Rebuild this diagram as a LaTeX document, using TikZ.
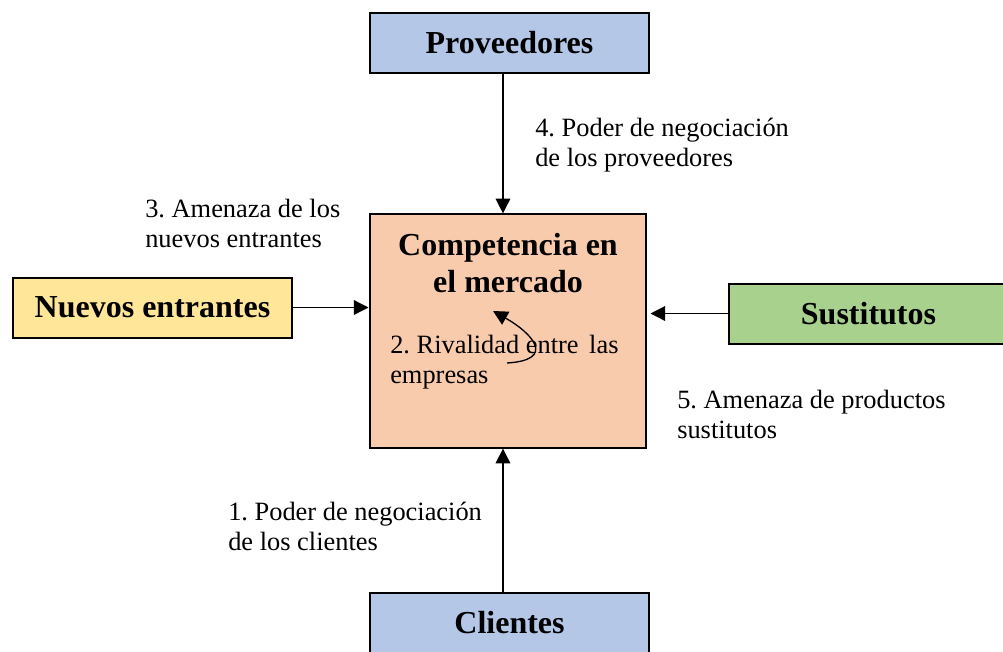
\documentclass[tikz,border=0pt]{standalone}
\usepackage{fontspec}
\setmainfont{Liberation Serif}
\usepackage{tikz}
\usetikzlibrary{arrows.meta}
\frenchspacing
\pgfdeclarelayer{edgelayer}
\pgfdeclarelayer{nodelayer}
\pgfsetlayers{edgelayer,nodelayer,main}
\definecolor{lblue}{RGB}{180,199,231}
\definecolor{lorange}{RGB}{248,203,173}
\definecolor{lyellow}{RGB}{255,230,153}
\definecolor{lgreen}{RGB}{169,209,142}
\tikzstyle{force}=[rectangle, draw=black, line width=1.5pt, minimum width=209pt, minimum height=45pt, font=\fontsize{24}{27.6}\selectfont\bfseries]
\tikzstyle{market}=[rectangle, fill=lorange, draw=black, line width=1.5pt, minimum width=207pt, minimum height=175pt]
\tikzstyle{note}=[align=left, inner sep=0pt, anchor=west, font=\fontsize{19.8}{22.5}\selectfont]
\tikzstyle{arrow}=[-{Triangle[length=11pt, width=11pt]}, draw=black, line width=1pt]

\begin{document}
\begin{tikzpicture}[x=0.75pt, y=-0.75pt]
            \useasboundingbox (0, 0) rectangle (1003, 651);
            \begin{pgfonlayer}{nodelayer}
                \node [style=force, fill=lblue] (prov) at (509.5, 43) {Proveedores};
                \node [style=force, fill=lyellow] (nuevos) at (152.5, 307.5) {Nuevos entrantes};
                \node [style=force, fill=lgreen] (sust) at (868.5, 313.5) {Sustitutos};
                \node [style=force, fill=lblue] (cli) at (509.5, 622.5) {Clientes};
                \node [style=market] (market) at (507.5, 331) {};
                \node [align=center, font=\fontsize{24}{27.6}\selectfont\bfseries] (title) at (508, 263) {Competencia en\\el mercado};
                \node [style=note] (rival) at (390, 362) {2. Rivalidad entre\hspace{0.4em}las\\empresas};

                \node [style=note] (n4) at (535, 145) {4. Poder de negociación\\de los proveedores};
                \node [style=note] (n3) at (145, 223) {3. Amenaza de los\\nuevos entrantes};
                \node [style=note] (n5) at (677, 414) {5. Amenaza de productos\\sustitutos};
                \node [style=note] (n1) at (228, 526) {1. Poder de negociación\\de los clientes};
            \end{pgfonlayer}
            \begin{pgfonlayer}{edgelayer}
                \draw [style=arrow] ([xshift=-4.9pt]prov.south) to ([xshift=-3.4pt]market.north);
                \draw [style=arrow] ([xshift=-4.9pt]cli.north) to ([xshift=-3.4pt]market.south);
                \draw [style=arrow] (nuevos.east) to (nuevos.east -| market.west);
                \draw [style=arrow, shorten >=3pt] (sust.west) to (sust.west -| market.east);
            \end{pgfonlayer}
            % rivalry loop inside the market box
            \coordinate (rivstart) at (507, 363);
            \coordinate (rivend) at (493, 311);
            \draw [style=arrow] (rivstart) .. controls (557, 360) and (532, 333) .. (rivend);
        \end{tikzpicture}
\end{document}
